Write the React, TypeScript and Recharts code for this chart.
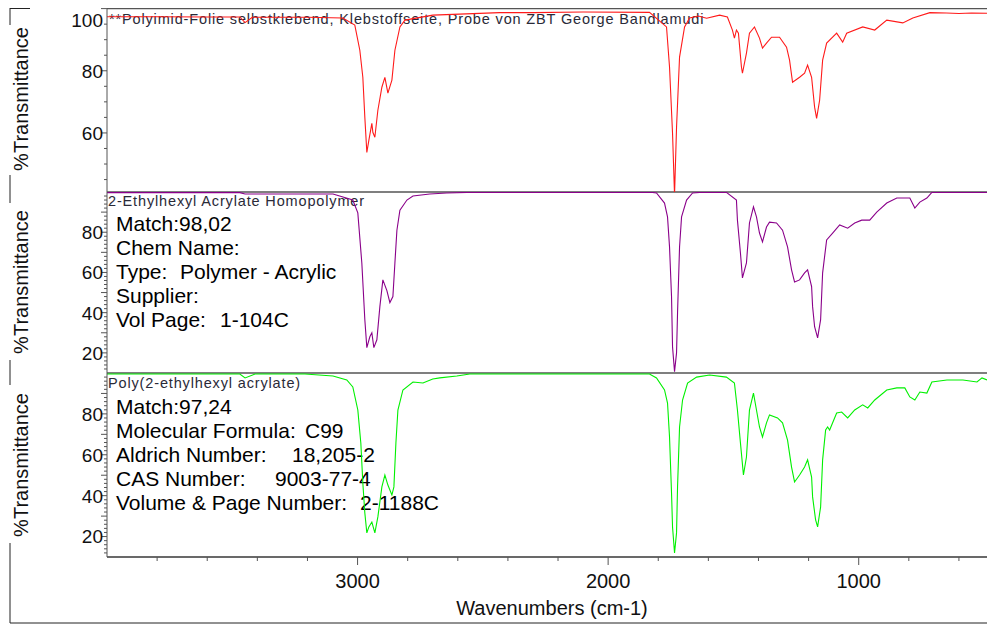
import React from 'react';
import { LineChart, Line, XAxis, YAxis } from 'recharts';

// FTIR spectra, wavenumber (cm-1) vs %Transmittance

const redWn = [4000, 3800, 3600, 3470, 3449, 3420, 3200, 3059, 3011, 2991, 2979, 2971, 2963, 2955, 2943, 2939, 2931, 2919, 2903, 2891, 2879, 2863, 2851, 2831, 2811, 2700, 2433, 2300, 2100, 1835, 1767, 1755, 1743, 1735, 1727, 1715, 1695, 1675, 1640, 1607, 1555, 1524, 1504, 1496, 1488, 1480, 1468, 1464, 1448, 1436, 1416, 1396, 1384, 1368, 1348, 1316, 1288, 1276, 1264, 1236, 1216, 1204, 1188, 1176, 1168, 1156, 1144, 1128, 1088, 1064, 1048, 984, 936, 888, 824, 784, 716, 650, 600, 550, 488];
const redT = [97.4, 97.4, 97.3, 97.3, 95.5, 97.2, 97.2, 97.0, 94.7, 86.6, 77.9, 65.0, 53.7, 57.6, 63.1, 60.2, 58.6, 67.3, 74.7, 77.9, 72.8, 77.0, 86.6, 94.1, 96.3, 97.9, 98.7, 98.7, 98.9, 98.8, 94.1, 81.2, 59.9, 40.0, 61.8, 84.4, 94.1, 97.0, 97.6, 96.9, 97.9, 97.3, 93.1, 90.5, 93.1, 92.1, 81.2, 79.2, 85.7, 92.1, 94.1, 90.5, 87.3, 88.9, 90.8, 90.8, 87.6, 83.4, 76.3, 77.9, 79.2, 81.8, 77.9, 68.3, 64.7, 70.5, 83.4, 88.9, 92.1, 89.2, 92.1, 94.1, 93.1, 96.3, 95.4, 97.0, 98.7, 98.6, 98.4, 98.6, 98.5];

const purpleWn = [4000, 3470, 3449, 3300, 3098, 3019, 2999, 2983, 2971, 2963, 2951, 2943, 2935, 2923, 2911, 2899, 2883, 2871, 2859, 2851, 2843, 2831, 2803, 2779, 2712, 2644, 2564, 1823, 1807, 1775, 1763, 1755, 1747, 1743, 1735, 1727, 1723, 1715, 1707, 1687, 1663, 1635, 1528, 1488, 1484, 1472, 1464, 1448, 1436, 1420, 1408, 1396, 1384, 1368, 1356, 1328, 1304, 1284, 1268, 1256, 1236, 1216, 1204, 1188, 1184, 1176, 1164, 1152, 1144, 1128, 1104, 1076, 1044, 1016, 988, 956, 928, 888, 848, 796, 776, 756, 728, 708, 488];
const purpleT = [99.7, 99.7, 99.0, 99.0, 99.0, 96.0, 89.6, 64.7, 36.5, 22.6, 28.0, 30.0, 22.6, 26.5, 43.0, 56.3, 51.0, 45.0, 48.0, 64.7, 81.0, 91.0, 96.0, 98.0, 99.0, 99.5, 99.8, 99.8, 99.5, 94.5, 87.6, 72.7, 47.9, 23.0, 10.7, 20.0, 40.0, 72.7, 87.6, 96.0, 99.5, 99.8, 99.8, 96.0, 86.0, 69.7, 57.3, 64.7, 84.6, 92.6, 87.6, 79.6, 75.2, 82.6, 85.0, 84.6, 81.0, 72.7, 61.3, 55.3, 56.3, 59.8, 61.3, 53.0, 43.0, 33.0, 27.5, 36.5, 59.8, 76.2, 79.6, 83.6, 82.0, 84.6, 86.0, 86.0, 90.0, 94.5, 97.0, 97.0, 92.0, 95.0, 97.0, 99.8, 99.8];

const greenWn = [4000, 3880, 3470, 3449, 3409, 3210, 3098, 3043, 3019, 2999, 2987, 2979, 2971, 2963, 2955, 2943, 2931, 2919, 2903, 2891, 2879, 2863, 2855, 2847, 2839, 2819, 2779, 2739, 2700, 2672, 2604, 2552, 2400, 1835, 1807, 1775, 1763, 1755, 1747, 1743, 1735, 1727, 1723, 1715, 1703, 1683, 1647, 1595, 1528, 1496, 1484, 1472, 1460, 1448, 1436, 1420, 1408, 1396, 1384, 1368, 1356, 1324, 1304, 1284, 1268, 1256, 1236, 1216, 1204, 1188, 1184, 1172, 1164, 1152, 1144, 1132, 1124, 1116, 1088, 1068, 1044, 1016, 984, 964, 936, 888, 848, 816, 796, 776, 756, 728, 708, 648, 584, 528, 508, 488];
const greenT = [99.5, 99.5, 99.5, 97.6, 99.5, 99.5, 98.5, 96.6, 93.2, 81.9, 65.8, 46.2, 31.5, 21.8, 24.7, 27.1, 21.8, 29.6, 44.3, 50.1, 45.2, 40.3, 44.3, 65.8, 81.9, 91.7, 95.6, 95.1, 97.1, 97.6, 98.5, 99.5, 99.5, 99.5, 97.6, 91.7, 85.3, 68.7, 41.3, 24.7, 12.0, 21.8, 44.3, 73.6, 86.8, 95.1, 98.0, 99.0, 98.0, 95.1, 81.9, 65.8, 50.1, 58.9, 81.9, 90.2, 81.9, 73.6, 68.7, 75.6, 79.5, 78.0, 75.6, 67.2, 54.0, 46.7, 50.1, 54.0, 57.5, 49.1, 39.4, 28.1, 24.7, 34.5, 57.5, 72.1, 73.6, 72.1, 80.4, 80.9, 78.0, 81.9, 84.4, 82.9, 86.8, 91.7, 92.7, 92.7, 88.3, 86.8, 90.7, 90.2, 95.6, 96.6, 96.6, 95.6, 97.6, 96.6];

// axis ticks
const xTicks = [600, 800, 1000, 1200, 1400, 1600, 1800, 2000, 2200, 2400, 2600, 2800, 3000, 3200, 3400, 3600, 3800];
const xLabels = [1000, 2000, 3000];
const topTicks = [45, 50, 55, 60, 65, 70, 75, 80, 85, 90, 95, 100];
const topLabels = [60, 80, 100];
const lowTicks = [12, 14, 16, 18, 20, 22, 24, 26, 28, 30, 32, 34, 36, 38, 40, 42, 44, 46, 48, 50, 52, 54, 56, 58, 60, 62, 64, 66, 68, 70, 72, 74, 76, 78, 80, 82, 84, 86, 88, 90, 92, 94, 96, 98];
const lowLabels = [20, 40, 60, 80];

// library search hit info: [key, value, x of value]
const hit1Info: [string, string, number][] = [
    ['Match:98,02', '', 0],
    ['Chem Name:', '', 0],
    ['Type:', 'Polymer - Acrylic', 180],
    ['Supplier:', '', 0],
    ['Vol Page:', '1-104C', 220],
];
const hit2Info: [string, string, number][] = [
    ['Match:97,24', '', 0],
    ['Molecular Formula:', 'C99', 305],
    ['Aldrich Number:', '18,205-2', 292],
    ['CAS Number:', '9003-77-4', 275],
    ['Volume & Page Number:', '2-1188C', 360],
];

const toRows = (wn: number[], t: number[]) => wn.map((w, i) => ({ wn: w, t: t[i] }));

const FONT = '"Liberation Sans", Arial, sans-serif';
const AXIS_GRAY = '#555';
const AXIS_X = 107;
const W = 987;

const makeYTick = (labels: number[], majorEvery: number, minY: number) => (props: any) => {
    const { y, payload } = props;
    const v = payload.value;
    const isLabel = labels.includes(v);
    const len = v % majorEvery === 0 ? 6 : 3;
    return (
        <g>
            <line x1={AXIS_X - len} x2={AXIS_X} y1={y} y2={y} stroke={AXIS_GRAY} strokeWidth={1} />
            {isLabel && (
                <text x={103} y={Math.max(y, minY)} dy="0.36em" textAnchor="end" fontSize={19} fontFamily={FONT} fill="#111">
                    {v}
                </text>
            )}
        </g>
    );
};

const XTick = (props: any) => {
    const { x, payload } = props;
    const v = payload.value;
    const major = xLabels.includes(v);
    return (
        <g>
            <line x1={x} x2={x} y1={184} y2={major ? 192 : 188} stroke={AXIS_GRAY} strokeWidth={1} />
            {major && (
                <text x={x} y={208} dy="0.36em" textAnchor="middle" fontSize={20} fontFamily={FONT} fill="#111">
                    {v}
                </text>
            )}
        </g>
    );
};

const xDomain: [number, number] = [488, 4000];

const Panel = ({ top, height, marginTop, marginBottom, rows, color, domain, ticks, labels, majorEvery, minLabelY, showX }: any) => (
    <div style={{ position: 'absolute', left: 0, top }}>
        <LineChart width={W} height={height} margin={{ top: marginTop, right: 0, bottom: marginBottom, left: 0 }}>
            <XAxis
                type="number"
                dataKey="wn"
                domain={xDomain}
                reversed
                allowDataOverflow
                hide={!showX}
                ticks={xTicks}
                interval={0}
                height={40}
                axisLine={{ stroke: AXIS_GRAY }}
                tickLine={false}
                tick={XTick}
            />
            <YAxis
                type="number"
                domain={domain}
                allowDataOverflow
                width={AXIS_X}
                ticks={ticks}
                interval={0}
                axisLine={{ stroke: AXIS_GRAY }}
                tickLine={false}
                tick={makeYTick(labels, majorEvery, minLabelY)}
            />
            <Line
                data={rows}
                type="linear"
                dataKey="t"
                stroke={color}
                strokeWidth={1.1}
                dot={false}
                isAnimationActive={false}
            />
        </LineChart>
    </div>
);

const InfoBlock = ({ rows, y0 }: { rows: [string, string, number][]; y0: number }) => (
    <g fontFamily={FONT} fontSize={21} fill="#000">
        {rows.map(([k, v, vx], i) => (
            <g key={k}>
                <text x={116} y={y0 + i * 24}>{k}</text>
                {v && <text x={vx} y={y0 + i * 24}>{v}</text>}
            </g>
        ))}
    </g>
);

const Background = () => (
    <svg width={W} height={626} style={{ position: 'absolute', left: 0, top: 0 }}>
        {/* outer frame, broken where the axis titles sit */}
        <g stroke="#222" strokeWidth={1}>
            <line x1={10} x2={30} y1={8.5} y2={8.5} />
            <line x1={10} x2={10} y1={8} y2={25} />
            <line x1={10} x2={10} y1={175} y2={203} />
            <line x1={10} x2={10} y1={360} y2={385} />
            <line x1={10} x2={10} y1={543} y2={623} />
            <line x1={10} x2={W} y1={623} y2={623} />
        </g>
        {/* panel boxes */}
        <g stroke={AXIS_GRAY} strokeWidth={1.3} fill="none">
            <line x1={AXIS_X} x2={W} y1={8.6} y2={8.6} />
            <line x1={AXIS_X} x2={W} y1={192} y2={192} />
            <line x1={AXIS_X} x2={W} y1={373} y2={373} />
            <line x1={AXIS_X} x2={W} y1={557} y2={557} />
        </g>
        <g fontFamily={FONT} fontSize={20} fill="#111" textAnchor="middle">
            <text transform="translate(28,99) rotate(-90)">%Transmittance</text>
            <text transform="translate(28,282) rotate(-90)">%Transmittance</text>
            <text transform="translate(28,465) rotate(-90)">%Transmittance</text>
            <text x={552} y={615}>Wavenumbers (cm-1)</text>
        </g>
        <g fontFamily={FONT} fontSize={14.5} letterSpacing={0.85} fill="#2a2a38">
            <text x={109} y={24}>**Polyimid-Folie selbstklebend, Klebstoffseite, Probe von ZBT George Bandlamudi</text>
            <text x={108} y={206}>2-Ethylhexyl Acrylate Homopolymer</text>
            <text x={108} y={388}>Poly(2-ethylhexyl acrylate)</text>
        </g>
        <InfoBlock rows={hit1Info} y0={231} />
        <InfoBlock rows={hit2Info} y0={414} />
    </svg>
);

export default function App() {
    return (
        <div style={{ position: 'absolute', left: 0, top: 0, width: W, height: 626, background: '#fff', overflow: 'hidden' }}>
            <Background />
            <Panel
                top={0}
                height={200}
                marginTop={8.6}
                marginBottom={8}
                rows={toRows(redWn, redT)}
                color="#ff1a1a"
                domain={[41, 100]}
                ticks={topTicks}
                labels={topLabels}
                majorEvery={20}
                minLabelY={20.5}
                showX={false}
            />
            <Panel
                top={192}
                height={190}
                marginTop={0}
                marginBottom={9}
                rows={toRows(purpleWn, purpleT)}
                color="#8a008a"
                domain={[10, 100]}
                ticks={lowTicks}
                labels={lowLabels}
                majorEvery={10}
                minLabelY={0}
                showX={false}
            />
            <Panel
                top={373}
                height={230}
                marginTop={0}
                marginBottom={6}
                rows={toRows(greenWn, greenT)}
                color="#00f000"
                domain={[10, 100]}
                ticks={lowTicks}
                labels={lowLabels}
                majorEvery={10}
                minLabelY={0}
                showX={true}
            />
        </div>
    );
}
